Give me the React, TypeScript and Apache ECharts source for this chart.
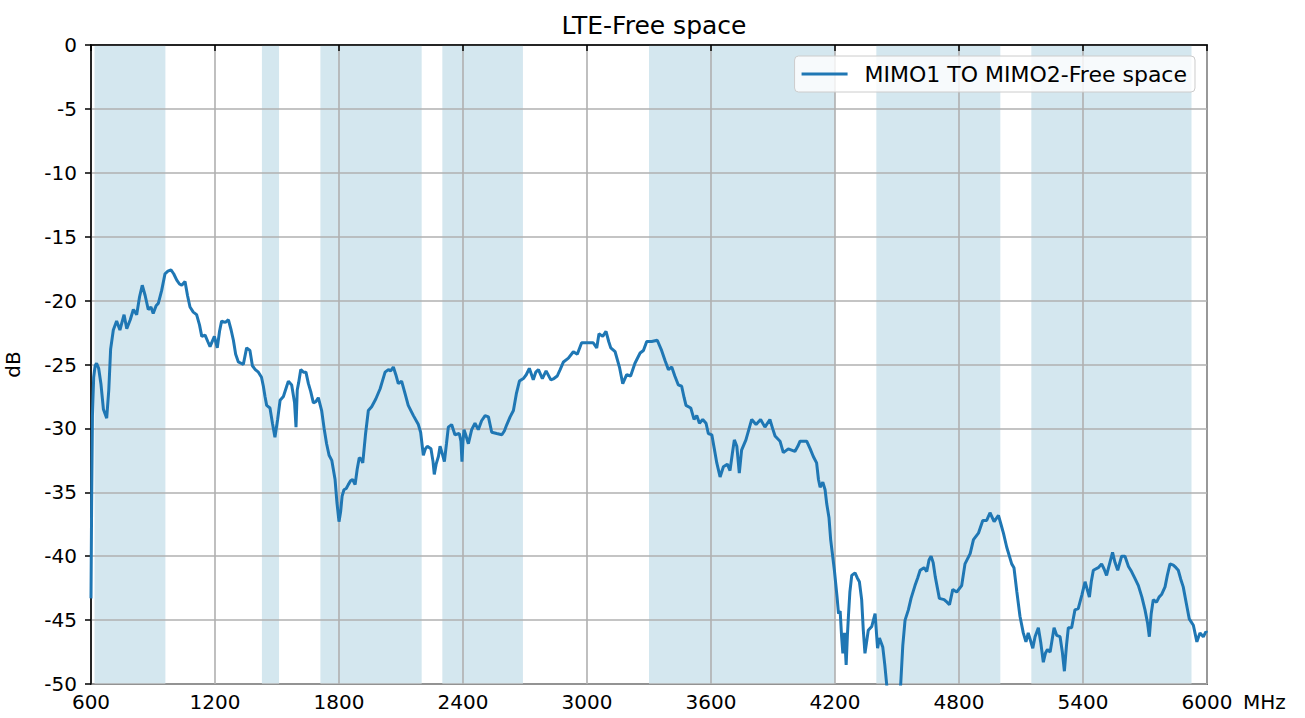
import React, { useEffect, useRef } from "react";
import * as echarts from "echarts";

const titleText = "LTE-Free space";
const seriesName = "MIMO1 TO MIMO2-Free space";
const xUnit = "MHz";
const yName = "dB";

const freqMHz = [
  600, 603, 607, 613, 620, 627, 637, 648, 660, 676, 686, 695, 708, 724, 740, 760, 773, 790, 805, 821,
  835, 848, 862, 877, 890, 901, 915, 926, 942, 958, 972, 987, 1000, 1015, 1028, 1039, 1055, 1067, 1079, 1095,
  1111, 1125, 1136, 1152, 1165, 1176, 1197, 1211, 1222, 1232, 1250, 1265, 1278, 1289, 1300, 1313, 1337, 1353, 1369, 1381,
  1395, 1410, 1425, 1434, 1442, 1450, 1466, 1478, 1490, 1503, 1515, 1531, 1545, 1555, 1571, 1585, 1592, 1598, 1605, 1615,
  1628, 1640, 1652, 1663, 1676, 1688, 1700, 1716, 1728, 1740, 1752, 1765, 1781, 1790, 1800, 1808, 1815, 1824, 1835, 1845,
  1856, 1866, 1878, 1888, 1898, 1907, 1915, 1928, 1942, 1958, 1978, 1999, 2010, 2023, 2039, 2050, 2063, 2075, 2087, 2103,
  2120, 2135, 2160, 2184, 2195, 2208, 2218, 2227, 2245, 2255, 2261, 2270, 2281, 2289, 2300, 2310, 2320, 2329, 2345, 2361,
  2382, 2390, 2395, 2400, 2405, 2415, 2426, 2442, 2458, 2474, 2490, 2507, 2523, 2539, 2563, 2588, 2600, 2612, 2628, 2644,
  2658, 2673, 2692, 2706, 2721, 2740, 2752, 2765, 2784, 2802, 2825, 2840, 2856, 2870, 2886, 2910, 2934, 2953, 2974, 3006,
  3030, 3047, 3058, 3076, 3092, 3105, 3115, 3136, 3157, 3173, 3192, 3211, 3232, 3257, 3273, 3289, 3313, 3340, 3361, 3378,
  3394, 3410, 3425, 3442, 3458, 3470, 3479, 3502, 3518, 3531, 3544, 3560, 3576, 3587, 3604, 3616, 3628, 3644, 3660, 3679,
  3692, 3703, 3713, 3725, 3737, 3748, 3769, 3783, 3797, 3818, 3840, 3861, 3885, 3898, 3910, 3934, 3950, 3974, 4006, 4020,
  4031, 4063, 4080, 4095, 4111, 4120, 4128, 4141, 4152, 4160, 4171, 4179, 4197, 4210, 4217, 4225, 4232, 4238, 4246, 4254,
  4260, 4265, 4272, 4281, 4297, 4308, 4318, 4329, 4337, 4345, 4361, 4378, 4394, 4406, 4415, 4431, 4441, 4451, 4465, 4485,
  4505, 4518, 4528, 4539, 4555, 4568, 4587, 4600, 4612, 4631, 4644, 4655, 4665, 4675, 4685, 4705, 4728, 4742, 4754, 4770,
  4789, 4813, 4829, 4854, 4870, 4894, 4915, 4934, 4950, 4970, 4991, 5003, 5015, 5031, 5055, 5066, 5080, 5095, 5111, 5124,
  5135, 5146, 5157, 5168, 5184, 5196, 5208, 5218, 5228, 5241, 5260, 5273, 5289, 5300, 5310, 5320, 5329, 5345, 5361, 5377,
  5395, 5410, 5431, 5440, 5450, 5474, 5490, 5502, 5514, 5530, 5543, 5555, 5568, 5587, 5603, 5620, 5635, 5650, 5668, 5685,
  5700, 5712, 5721, 5730, 5740, 5756, 5768, 5780, 5797, 5808, 5821, 5837, 5850, 5861, 5873, 5885, 5900, 5914, 5934, 5951,
  5966, 5982, 5995, 6000,
];

const isolationDb = [
  -43.3, -36, -29, -26, -25.1, -24.9, -25.3, -26.5, -28.5, -29.2, -27, -23.8, -22.3, -21.6, -22.3, -21.1, -22.2, -21.5, -20.7, -21.1,
  -19.7, -18.8, -19.6, -20.7, -20.5, -21.0, -20.4, -20.2, -19.2, -17.9, -17.7, -17.6, -17.9, -18.4, -18.7, -18.8, -18.5, -19.6, -20.5, -20.9,
  -21.1, -21.9, -22.8, -22.7, -23.2, -23.6, -22.8, -23.7, -22.4, -21.6, -21.7, -21.5, -22.3, -23.1, -24.2, -24.8, -25.0, -23.7, -23.9, -25.1,
  -25.4, -25.6, -26.0, -26.7, -27.5, -28.2, -28.4, -29.6, -30.7, -29.3, -27.8, -27.5, -26.8, -26.3, -26.6, -28.0, -29.9, -27.0, -26.4, -25.4,
  -25.6, -25.6, -26.5, -27.1, -28.0, -27.9, -27.6, -28.6, -30.0, -31.2, -32.1, -32.5, -34.0, -35.8, -37.3, -36.5, -35.3, -34.8, -34.7, -34.4,
  -34.1, -34.0, -34.4, -33.2, -32.3, -32.4, -32.7, -30.5, -28.6, -28.3, -27.7, -26.9, -26.3, -25.6, -25.4, -25.5, -25.2, -25.8, -26.5, -26.3,
  -27.3, -28.2, -29.0, -29.7, -30.3, -32.1, -31.6, -31.4, -31.6, -32.6, -33.6, -32.8, -32.2, -31.4, -32.0, -32.6, -31.2, -29.9, -29.7, -30.5,
  -30.4, -31.0, -32.6, -31.0, -30.1, -30.6, -31.2, -30.1, -29.6, -30.1, -29.4, -29.0, -29.1, -30.3, -30.4, -30.5, -30.2, -29.7, -29.1, -28.6,
  -27.3, -26.3, -26.1, -25.8, -25.3, -26.2, -25.6, -25.4, -26.1, -25.5, -26.2, -26.1, -25.9, -25.4, -24.8, -24.5, -24.0, -24.2, -23.3, -23.3,
  -23.3, -23.7, -22.6, -22.8, -22.4, -23.2, -23.7, -24.0, -25.2, -26.5, -25.8, -25.9, -24.9, -24.1, -23.9, -23.2, -23.2, -23.1, -23.9, -24.7,
  -25.4, -25.2, -25.9, -26.6, -26.7, -27.6, -28.2, -28.4, -29.3, -29.0, -29.6, -29.3, -29.6, -30.4, -30.5, -31.6, -32.7, -33.8, -33.0, -32.8,
  -33.3, -32.0, -30.9, -31.4, -33.5, -31.7, -30.9, -30.1, -29.3, -29.7, -29.3, -29.9, -29.3, -30.0, -30.6, -31.0, -31.9, -31.6, -31.8, -31.4,
  -31.0, -31.0, -31.6, -32.2, -32.7, -34.0, -34.6, -34.2, -34.8, -35.9, -37.0, -38.7, -41.1, -43.2, -44.5, -44.3, -46.3, -47.6, -46.0, -48.5,
  -46.2, -44.7, -42.8, -41.5, -41.3, -41.7, -42.0, -43.4, -45.8, -47.6, -45.8, -45.5, -44.5, -47.2, -46.4, -47.1, -48.5, -50.2, -53, -54,
  -52, -50.0, -47, -45.0, -44.2, -43.3, -42.3, -41.7, -41.1, -40.9, -41.2, -40.3, -40.0, -40.5, -41.6, -43.3, -43.4, -43.6, -43.8, -42.6,
  -42.8, -42.3, -40.6, -39.8, -38.7, -38.2, -37.2, -37.2, -36.6, -37.3, -36.8, -37.5, -38.2, -39.3, -40.6, -40.9, -42.8, -44.7, -46.0, -46.7,
  -46.0, -46.6, -47.2, -46.3, -45.6, -46.8, -48.3, -47.6, -47.3, -47.5, -45.6, -46.2, -46.3, -47.5, -49.0, -47.0, -45.6, -45.6, -44.2, -44.1,
  -43.0, -42.0, -43.2, -42.0, -41.1, -40.9, -40.6, -41.0, -41.5, -40.5, -39.7, -40.5, -41.1, -40.0, -40.0, -40.8, -41.2, -41.7, -42.3, -43.2,
  -44.2, -45.2, -46.3, -44.5, -43.4, -43.6, -43.2, -43.0, -42.4, -41.5, -40.6, -40.7, -40.9, -41.1, -41.8, -42.4, -43.7, -44.9, -45.4, -46.7,
  -46.0, -46.3, -45.9, -46.0,
];

// LTE bands shaded in the background (MHz)
const bandStart = [617, 1427, 1710, 2300, 3300, 4400, 5150];
const bandEnd = [960, 1510, 2200, 2690, 4200, 5000, 5925];

const xMin = 600;
const xMax = 6000;
const xStep = 600;
const yMin = -50;
const yMax = 0;
const yStep = 5;

const FONT = "DejaVu Sans";

export default function App() {
  const ref = useRef<HTMLDivElement>(null);

  useEffect(() => {
    if (!ref.current) return;
    const chart = echarts.init(ref.current, undefined, { renderer: "svg" });
    const points = freqMHz.map((f, i) => [f, isolationDb[i]]);
    const areas = bandStart.map((s, i) => [{ xAxis: s }, { xAxis: bandEnd[i] }]);

    chart.setOption({
      animation: false,
      backgroundColor: "#ffffff",
      textStyle: { fontFamily: FONT },
      title: {
        text: titleText,
        left: 649,
        textAlign: "center",
        top: 8,
        textStyle: { fontFamily: FONT, fontSize: 25, fontWeight: "normal", color: "#000" },
      },
      legend: {
        data: [{ name: seriesName, icon: "rect" }],
        right: 110,
        top: 56,
        orient: "vertical",
        itemWidth: 46,
        itemHeight: 3,
        padding: [7, 8, 7, 7],
        backgroundColor: "rgba(255,255,255,0.8)",
        borderColor: "#cccccc",
        borderWidth: 1,
        borderRadius: 4,
        textStyle: { fontFamily: FONT, fontSize: 22, color: "#000", padding: [0, 0, 0, 12] },
      },
      grid: {
        left: 91,
        right: 98,
        top: 45,
        bottom: 34,
        containLabel: false,
        outerBoundsMode: "none",
        show: true,
        borderColor: "#000",
        borderWidth: 1.5,
        backgroundColor: "transparent",
      },
      graphic: [
        {
          type: "text",
          x: 1243,
          y: 702,
          style: {
            text: xUnit,
            fontFamily: FONT,
            fontSize: 20,
            fill: "#000",
            textVerticalAlign: "middle",
            verticalAlign: "middle",
          },
        },
      ],
      xAxis: {
        type: "value",
        min: xMin,
        max: xMax,
        interval: xStep,
        z: 2,
        axisLine: { show: true, lineStyle: { color: "#000", width: 1.5 } },
        axisTick: { show: true, length: 6, inside: false, lineStyle: { color: "#000", width: 1.5 } },
        axisLabel: {
          fontFamily: FONT,
          fontSize: 20,
          color: "#000",
          margin: 8,
          showMinLabel: true,
          showMaxLabel: true,
          formatter: (v: number) => String(v),
        },
        splitLine: { show: true, lineStyle: { color: "#b0b0b0", width: 1.6 } },
      },
      yAxis: {
        type: "value",
        min: yMin,
        max: yMax,
        interval: yStep,
        z: 2,
        name: yName,
        nameLocation: "middle",
        nameGap: 68,
        nameTextStyle: { fontFamily: FONT, fontSize: 20, color: "#000" },
        axisLine: { show: true, lineStyle: { color: "#000", width: 1.5 } },
        axisTick: { show: true, length: 6, inside: false, lineStyle: { color: "#000", width: 1.5 } },
        axisLabel: { fontFamily: FONT, fontSize: 20, color: "#000", margin: 14, formatter: (v: number) => String(v) },
        splitLine: { show: true, lineStyle: { color: "#b0b0b0", width: 1.6 } },
      },
      series: [
        {
          name: "bands",
          type: "line",
          data: [],
          z: 1,
          silent: true,
          markArea: {
            silent: true,
            z: 1,
            itemStyle: { color: "#d4e7ef" },
            data: areas,
          },
        },
        {
          name: seriesName,
          type: "line",
          data: points,
          z: 3,
          symbol: "none",
          showSymbol: false,
          clip: true,
          lineStyle: { color: "#1f77b4", width: 3 },
          itemStyle: { color: "#1f77b4" },
        },
      ],
    });

    return () => chart.dispose();
  }, []);

  return (
    <div
      ref={ref}
      style={{ position: "absolute", left: 0, top: 0, width: 1305, height: 718 }}
    />
  );
}
